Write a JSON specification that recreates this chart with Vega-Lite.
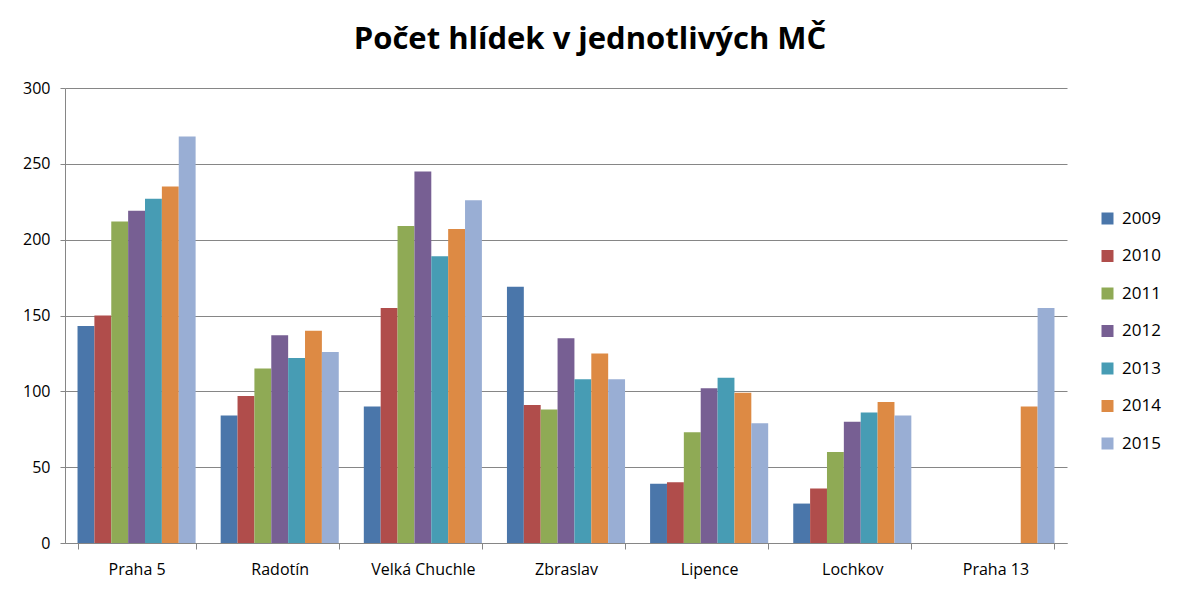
{
  "$schema": "https://vega.github.io/schema/vega-lite/v6.json",
  "width": 1002,
  "height": 455,
  "autosize": {"type": "none"},
  "padding": {"left": 65, "top": 88, "right": 113, "bottom": 54},
  "background": "white",
  "title": {
    "text": "Počet hlídek v jednotlivých MČ",
    "font": "Open Sans",
    "fontSize": 31,
    "fontWeight": "bold",
    "color": "#000000",
    "anchor": "middle",
    "dx": 24,
    "offset": 24
  },
  "data": {
    "values": [
      {"mc": "Praha 5", "rok": "2009", "pocet": 143},
      {"mc": "Praha 5", "rok": "2010", "pocet": 150},
      {"mc": "Praha 5", "rok": "2011", "pocet": 212},
      {"mc": "Praha 5", "rok": "2012", "pocet": 219},
      {"mc": "Praha 5", "rok": "2013", "pocet": 227},
      {"mc": "Praha 5", "rok": "2014", "pocet": 235},
      {"mc": "Praha 5", "rok": "2015", "pocet": 268},
      {"mc": "Radotín", "rok": "2009", "pocet": 84},
      {"mc": "Radotín", "rok": "2010", "pocet": 97},
      {"mc": "Radotín", "rok": "2011", "pocet": 115},
      {"mc": "Radotín", "rok": "2012", "pocet": 137},
      {"mc": "Radotín", "rok": "2013", "pocet": 122},
      {"mc": "Radotín", "rok": "2014", "pocet": 140},
      {"mc": "Radotín", "rok": "2015", "pocet": 126},
      {"mc": "Velká Chuchle", "rok": "2009", "pocet": 90},
      {"mc": "Velká Chuchle", "rok": "2010", "pocet": 155},
      {"mc": "Velká Chuchle", "rok": "2011", "pocet": 209},
      {"mc": "Velká Chuchle", "rok": "2012", "pocet": 245},
      {"mc": "Velká Chuchle", "rok": "2013", "pocet": 189},
      {"mc": "Velká Chuchle", "rok": "2014", "pocet": 207},
      {"mc": "Velká Chuchle", "rok": "2015", "pocet": 226},
      {"mc": "Zbraslav", "rok": "2009", "pocet": 169},
      {"mc": "Zbraslav", "rok": "2010", "pocet": 91},
      {"mc": "Zbraslav", "rok": "2011", "pocet": 88},
      {"mc": "Zbraslav", "rok": "2012", "pocet": 135},
      {"mc": "Zbraslav", "rok": "2013", "pocet": 108},
      {"mc": "Zbraslav", "rok": "2014", "pocet": 125},
      {"mc": "Zbraslav", "rok": "2015", "pocet": 108},
      {"mc": "Lipence", "rok": "2009", "pocet": 39},
      {"mc": "Lipence", "rok": "2010", "pocet": 40},
      {"mc": "Lipence", "rok": "2011", "pocet": 73},
      {"mc": "Lipence", "rok": "2012", "pocet": 102},
      {"mc": "Lipence", "rok": "2013", "pocet": 109},
      {"mc": "Lipence", "rok": "2014", "pocet": 99},
      {"mc": "Lipence", "rok": "2015", "pocet": 79},
      {"mc": "Lochkov", "rok": "2009", "pocet": 26},
      {"mc": "Lochkov", "rok": "2010", "pocet": 36},
      {"mc": "Lochkov", "rok": "2011", "pocet": 60},
      {"mc": "Lochkov", "rok": "2012", "pocet": 80},
      {"mc": "Lochkov", "rok": "2013", "pocet": 86},
      {"mc": "Lochkov", "rok": "2014", "pocet": 93},
      {"mc": "Lochkov", "rok": "2015", "pocet": 84},
      {"mc": "Praha 13", "rok": "2014", "pocet": 90},
      {"mc": "Praha 13", "rok": "2015", "pocet": 155}
    ]
  },
  "mark": {"type": "bar"},
  "encoding": {
    "x": {
      "field": "mc",
      "type": "nominal",
      "sort": ["Praha 5", "Radotín", "Velká Chuchle", "Zbraslav", "Lipence", "Lochkov", "Praha 13"],
      "scale": {"paddingInner": 0.175, "paddingOuter": 0.0875},
      "axis": {
        "title": null,
        "labelAngle": 0,
        "labelFont": "Open Sans",
        "labelFontSize": 16,
        "labelColor": "#000000",
        "labelPadding": 12,
        "tickBand": "extent",
        "tickColor": "#868686",
        "tickSize": 6,
        "domainColor": "#868686",
        "grid": false
      }
    },
    "xOffset": {
      "field": "rok",
      "type": "nominal",
      "scale": {"paddingInner": 0, "paddingOuter": 0}
    },
    "y": {
      "field": "pocet",
      "type": "quantitative",
      "scale": {"domain": [0, 300]},
      "axis": {
        "title": null,
        "values": [0, 50, 100, 150, 200, 250, 300],
        "labelFont": "Open Sans",
        "labelFontSize": 16,
        "labelColor": "#000000",
        "labelPadding": 10,
        "tickColor": "#868686",
        "tickSize": 5,
        "domainColor": "#868686",
        "gridColor": "#868686",
        "gridWidth": 1
      }
    },
    "color": {
      "field": "rok",
      "type": "nominal",
      "scale": {
        "domain": ["2009", "2010", "2011", "2012", "2013", "2014", "2015"],
        "range": ["#4A76AA", "#B04D4B", "#8FAA55", "#775F93", "#479CB4", "#DD8A44", "#99AED4"]
      },
      "legend": {
        "title": null,
        "orient": "none",
        "legendX": 1034,
        "legendY": 122,
        "symbolType": "square",
        "symbolSize": 144,
        "symbolStrokeWidth": 0,
        "labelFont": "Open Sans",
        "labelFontSize": 17,
        "labelColor": "#000000",
        "labelOffset": 6,
        "rowPadding": 19.5
      }
    }
  },
  "config": {
    "view": {"stroke": null}
  }
}
